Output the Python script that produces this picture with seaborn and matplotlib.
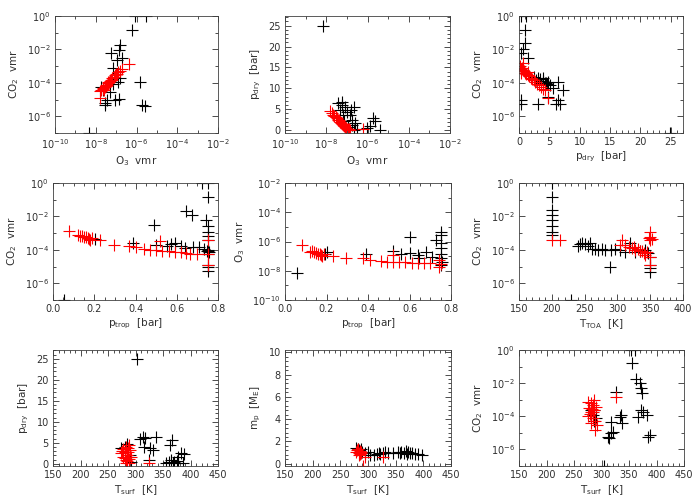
import numpy as np
import matplotlib
matplotlib.use('Agg')
import matplotlib.pyplot as plt
import seaborn as sns
from matplotlib.ticker import FixedLocator, MultipleLocator, NullFormatter, FuncFormatter

sns.set_style('ticks')
plt.rcParams['font.family'] = ['DejaVu Sans']
plt.rcParams['font.size'] = 7
plt.rcParams['mathtext.default'] = 'regular'

# ---- panel 1: O3 vmr vs CO2 vmr
p1_black_o3 = [8e-7, 3e-6, 5.8e-7, 1.5e-7, 1.4e-7, 5.6e-8, 1.9e-7, 1.1e-7, 7e-8, 1.5e-7, 7e-8, 5e-8,
               3.4e-8, 2.8e-8, 3e-8, 8.7e-8, 1.4e-7, 1.5e-6, 1.8e-6, 2.6e-6, 4.8e-9, 2.3e-8, 1.9e-8, 1.2e-7]
p1_black_co2 = [1.0, 1.0, 0.15, 1.8e-2, 9e-3, 6e-3, 3e-3, 2.3e-3, 8e-4, 1.9e-4, 9e-5, 3e-5,
                9e-6, 4.7e-6, 6.5e-6, 9.3e-6, 1.1e-5, 1.2e-4, 4.7e-6, 4.2e-6, 1e-7, 3.7e-5, 5.9e-5, 1.2e-4]
p1_red_o3 = [1.66e-8, 1.91e-8, 2.19e-8, 2.4e-8, 2.82e-8, 3.16e-8, 3.55e-8, 3.98e-8, 4.47e-8, 5.01e-8, 5.75e-8,
             6.61e-8, 7.59e-8, 8.91e-8, 1.05e-7, 1.26e-7, 1.51e-7, 1.91e-7, 2.51e-8, 3.98e-8, 6.31e-8, 1e-7,
             1.6e-8, 4.4e-7]
p1_red_co2 = [3.16e-5, 3.8e-5, 4.17e-5, 5.01e-5, 6.03e-5, 6.61e-5, 7.94e-5, 9.55e-5, 1.12e-4, 1.32e-4, 1.58e-4,
              1.91e-4, 2.4e-4, 2.82e-4, 3.55e-4, 4.47e-4, 5.25e-4, 6.61e-4, 3.55e-5, 1.2e-4, 1.41e-4, 3.31e-4,
              1.3e-5, 1.3e-3]

# ---- panel 2: O3 vmr vs p_dry
p2_black_o3 = [7.2e-9, 3.9e-8, 5.6e-8, 8.1e-8, 4.7e-8, 1e-7, 2.1e-7, 6.8e-8, 1.45e-7, 1.74e-7, 2.5e-7, 1.17e-7,
               2.1e-7, 9.3e-7, 2.3e-6, 1.95e-6, 4.1e-6, 1.26e-6, 6e-8, 1.5e-7, 7e-8, 1.8e-7, 3e-7]
p2_black_pdry = [25.0, 6.4, 6.8, 5.6, 4.8, 4.4, 5.6, 3.6, 3.6, 2.4, 1.6, 0.8,
                 0.0, 0.4, 2.2, 2.8, 0.0, 1.0, 6.0, 4.8, 2.2, 1.2, 0.3]
p2_red_o3 = [1.58e-8, 1.91e-8, 2.19e-8, 2.51e-8, 2.82e-8, 3.16e-8, 3.55e-8, 3.98e-8, 4.47e-8, 5.01e-8, 5.62e-8,
             6.31e-8, 7.24e-8, 8.32e-8, 9.55e-8, 1.1e-7, 1.26e-7, 1.38e-7, 6.3e-7]
p2_red_pdry = [4.5, 4.0, 3.7, 3.4, 3.1, 2.8, 2.5, 2.3, 2.0, 1.7, 1.5,
               1.2, 1.0, 0.7, 0.5, 0.3, 0.15, 0.0, 0.2]

# ---- panel 3: p_dry vs CO2 vmr
p3_black_pdry = [0.4, 1.2, 1.06, 0.94, 0.67, 0.39, 1.49, 3.96, 4.79, 4.24, 5.07, 6.44, 7.26, 5.61, 2.87,
                 0.39, 0.39, 3.14, 4.79, 6.44, 6.71, 6.17, 24.9, 3.5, 4.5, 4.0, 4.6, 3.2, 2.4]
p3_black_co2 = [1.0, 1.0, 0.145, 2.3e-2, 1e-2, 5.8e-3, 3e-3, 1.86e-4, 1.17e-4, 9.3e-5, 7.4e-5, 1.17e-4, 3.7e-5,
                4.7e-5, 1.48e-4, 9.3e-6, 5.1e-6, 5.1e-6, 1.35e-5, 9.3e-6, 5.1e-6, 5.1e-6, 1e-7,
                1.6e-4, 1e-4, 1.3e-4, 8e-5, 2e-4, 2.2e-4]
p3_red_pdry = [0.2, 0.3, 0.45, 0.6, 0.8, 1.0, 1.2, 1.4, 1.6, 1.9, 2.1, 2.4, 2.7, 3.0, 3.3,
               3.6, 3.9, 4.2, 0.67, 4.79, 0.3, 1.5]
p3_red_co2 = [1e-3, 7.08e-4, 7.94e-4, 5.62e-4, 5.01e-4, 3.98e-4, 3.55e-4, 2.82e-4, 2.51e-4, 2e-4, 1.78e-4,
              1.41e-4, 1.12e-4, 8.91e-5, 7.08e-5, 5.62e-5, 4.47e-5, 3.55e-5, 1.45e-3, 1.17e-5, 3.98e-4, 4.47e-4]

# ---- panel 4: p_trop vs CO2 vmr
p4_black_ptrop = [0.72, 0.75, 0.753, 0.645, 0.673, 0.74, 0.75, 0.75, 0.75, 0.75, 0.49, 0.39, 0.59, 0.555,
                  0.68, 0.203, 0.053, 0.75, 0.75, 0.75, 0.75, 0.75, 0.75, 0.62, 0.71, 0.64, 0.73, 0.5,
                  0.57, 0.745, 0.755]
p4_black_co2 = [1.0, 1.0, 0.15, 2.2e-2, 1.2e-2, 6e-3, 2.7e-3, 1.2e-3, 7e-4, 4e-4, 3.1e-3, 2.7e-4, 2.5e-4,
                1.6e-4, 1.45e-4, 4.3e-4, 1e-7, 1e-4, 8e-5, 6e-5, 1.3e-5, 1e-5, 5.6e-6, 1.8e-4, 1.5e-4,
                1.3e-4, 1.2e-4, 2e-4, 2.2e-4, 9e-5, 7e-5]
p4_red_ptrop = [0.077, 0.12, 0.13, 0.14, 0.15, 0.16, 0.17, 0.175, 0.18, 0.19, 0.227, 0.295, 0.367, 0.4,
                0.44, 0.47, 0.5, 0.53, 0.56, 0.59, 0.62, 0.645, 0.665, 0.7, 0.52, 0.752, 0.752, 0.752]
p4_red_co2 = [1.35e-3, 7.8e-4, 7e-4, 6.5e-4, 6e-4, 5.5e-4, 5e-4, 4.5e-4, 4e-4, 4.8e-4, 3.9e-4, 1.95e-4,
              1.8e-4, 1.4e-4, 1.07e-4, 1.05e-4, 1e-4, 9e-5, 8.5e-5, 7.5e-5, 7e-5, 6.5e-5, 6e-5, 5.5e-5,
              3.2e-4, 3.9e-4, 6e-5, 1.2e-5]

# ---- panel 5: p_trop vs O3 vmr
p5_black_ptrop = [0.056, 0.60, 0.75, 0.75, 0.73, 0.75, 0.75, 0.75, 0.75, 0.755, 0.75, 0.392, 0.52, 0.56,
                  0.648, 0.6, 0.68, 0.71, 0.64, 0.192, 0.2]
p5_black_o3 = [6.6e-9, 1.9e-6, 4.7e-6, 2.8e-6, 1.26e-6, 7.4e-7, 3.4e-7, 1.5e-7, 6.9e-8, 4.1e-8, 2.4e-8,
               1.5e-7, 2.3e-7, 1.5e-7, 6.9e-8, 1.6e-7, 1.9e-7, 9e-8, 1.2e-7, 1.5e-7, 2e-7]
p5_red_ptrop = [0.08, 0.12, 0.13, 0.14, 0.15, 0.16, 0.17, 0.175, 0.18, 0.19, 0.232, 0.293, 0.376, 0.408,
                0.464, 0.49, 0.52, 0.55, 0.58, 0.61, 0.64, 0.67, 0.70, 0.52, 0.744, 0.744, 0.75]
p5_red_o3 = [5.6e-7, 2e-7, 2.2e-7, 1.8e-7, 1.6e-7, 1.5e-7, 1.3e-7, 1.2e-7, 1.1e-7, 1.4e-7, 1e-7, 6.9e-8,
             6.9e-8, 5.4e-8, 4.6e-8, 4e-8, 4e-8, 3.8e-8, 3.8e-8, 3.6e-8, 3.6e-8, 3.5e-8, 3.4e-8, 1.2e-7,
             5.4e-8, 1.9e-8, 3e-8]

# ---- panel 6: T_TOA vs CO2 vmr
p6_black_ttoa = [200, 200, 200, 200, 200, 200, 200, 200, 230, 240, 243, 246, 250, 258, 266, 271, 281, 291,
                 296, 304, 312, 319, 289, 342, 347, 350, 350, 350, 350, 335, 327, 262, 276, 255]
p6_black_co2 = [1.0, 0.15, 2.4e-2, 1.2e-2, 6e-3, 2.7e-3, 1.2e-3, 7.8e-4, 1e-7, 1.7e-4, 2.1e-4, 2.7e-4,
                2.2e-4, 2.5e-4, 1.2e-4, 9.8e-5, 1e-4, 9.8e-5, 1.2e-4, 9.8e-5, 7.8e-5, 2.5e-4, 8.9e-6,
                9.8e-5, 6.2e-5, 3.9e-5, 1.2e-5, 7.8e-6, 4.9e-6, 8e-5, 7e-5, 1.1e-4, 1.2e-4, 1.8e-4]
p6_red_ttoa = [200, 213, 307, 304, 317, 322, 327, 332, 335, 340, 342, 345, 350, 350, 350, 348, 352, 350,
               350, 312, 325, 338]
p6_red_co2 = [3.9e-4, 3.9e-4, 3.9e-4, 1.95e-4, 1.55e-4, 1.25e-4, 1e-4, 1.1e-4, 8e-5, 6.5e-5, 5e-5, 7e-5,
              1.23e-3, 6.2e-4, 3.9e-4, 5e-4, 4.5e-4, 4e-5, 1.23e-5, 2e-4, 1.4e-4, 9e-5]

# ---- panel 7: T_surf vs p_dry
p7_black_tsurf = [303, 308, 314, 318, 315, 326, 337, 332, 324.5, 367, 362, 383, 377, 389, 356, 368, 378, 386,
                  280, 286, 273, 290, 292, 285, 360, 365, 370, 375]
p7_black_pdry = [25.0, 5.9, 6.3, 6.1, 4.1, 3.7, 6.5, 3.3, 1.0, 5.7, 4.5, 2.5, 1.7, 2.4, 0.2, 0.1, 0.1, 0.1,
                 4.1, 1.7, 3.7, 2.0, 0.5, 4.8, 0.5, 0.9, 0.4, 0.6]
p7_red_tsurf = [274, 280, 286, 289, 283, 282, 277, 292, 289, 278, 284, 287, 280, 285, 290, 276, 324.5, 283, 288]
p7_red_pdry = [2.5, 2.9, 3.7, 4.5, 1.0, 0.2, 1.7, 1.7, 0.2, 3.5, 2.2, 2.8, 1.3, 0.6, 3.2, 3.1, 0.2, 4.0, 1.2]

# ---- panel 8: T_surf vs planet mass
p8_black_tsurf = [279, 282, 284, 286, 290, 295, 300, 303, 310, 316, 322, 328, 336, 355, 360, 365, 368, 372,
                  376, 380, 385, 390, 397, 345, 288, 320, 330, 358, 370]
p8_black_mp = [1.4, 1.3, 1.2, 1.1, 1.1, 1.0, 1.05, 0.8, 0.8, 0.9, 0.85, 0.95, 1.0, 1.05, 1.1, 1.0, 1.15, 1.05,
               0.95, 1.0, 0.9, 0.85, 0.8, 1.0, 1.3, 1.0, 1.05, 0.95, 0.9]
p8_red_tsurf = [279, 281, 283, 285, 287, 284, 288, 282, 294, 291, 327, 286]
p8_red_mp = [1.1, 1.2, 1.0, 0.9, 1.05, 0.8, 0.95, 1.3, 0.65, -0.18, 0.65, 1.15]

# ---- panel 9: T_surf vs CO2 vmr
p9_black_tsurf = [354, 360, 356, 363, 369.5, 372.6, 374, 366, 372.6, 375.6, 383, 384.8, 388, 325.6, 333, 336,
                  338, 317.7, 320.7, 317.7, 311.6, 314, 303.7, 281, 287, 284, 290, 286]
p9_black_co2 = [1.0, 1.0, 0.16, 1.9e-2, 9.8e-3, 4.9e-3, 2.4e-3, 9.5e-5, 2.4e-4, 1.9e-4, 1.2e-4, 5.4e-6,
                7.4e-6, 3e-3, 9.5e-5, 1.2e-4, 3.7e-5, 4.7e-5, 1.2e-5, 9.3e-6, 5.9e-6, 5e-6, 1e-7, 2.4e-4,
                2.4e-4, 1.2e-4, 8e-5, 5e-5]
p9_red_tsurf = [275, 281, 284, 278, 287, 281, 276, 284, 288, 280, 289, 286, 283, 290, 279, 285, 326.8, 292]
p9_red_co2 = [7.6e-4, 6e-4, 4.5e-4, 3.3e-4, 2.5e-4, 1.7e-4, 1.1e-4, 8e-5, 5.5e-5, 4e-5, 1.5e-5, 9.5e-4,
              2.8e-4, 3.5e-4, 1.4e-4, 1.9e-4, 1.4e-3, 3e-5]

lbl_co2 = 'CO$_2$  vmr'
lbl_o3 = 'O$_3$  vmr'
lbl_pdry = 'p$_{dry}$  [bar]'
lbl_ptrop = 'p$_{trop}$  [bar]'
lbl_ttoa = 'T$_{TOA}$  [K]'
lbl_tsurf = 'T$_{surf}$  [K]'
lbl_mp = 'm$_p$  [M$_E$]'

TXT = '#303030'
W, H = 700, 500


def pow10(v, pos):
    return '$10^{%d}$' % int(round(np.log10(v)))


def setup_axis(axis, lim, log, major=None, minor=None):
    if log:
        lo, hi = int(np.log10(lim[0])), int(np.log10(lim[1]))
        decades = list(range(lo, hi + 1))
        majors = [10.0 ** d for d in decades if d % 2 == 0]
        minors = [10.0 ** d for d in decades if d % 2 != 0]
        axis.set_major_locator(FixedLocator(majors))
        axis.set_minor_locator(FixedLocator(minors))
        axis.set_major_formatter(FuncFormatter(pow10))
        axis.set_minor_formatter(NullFormatter())
    else:
        axis.set_major_locator(MultipleLocator(major))
        axis.set_minor_locator(MultipleLocator(minor))


def panel(box, bx, by, rx, ry, xlabel, ylabel, xlim, ylim, xlog=False, ylog=False,
          xt=(None, None), yt=(None, None)):
    x0, x1, y0, y1 = box
    ax = fig.add_axes([x0 / W, 1 - y1 / H, (x1 - x0) / W, (y1 - y0) / H])
    if xlog:
        ax.set_xscale('log')
    if ylog:
        ax.set_yscale('log')
    sns.scatterplot(x=bx, y=by, marker='+', color='black', s=75, linewidth=0.8, ax=ax, legend=False)
    sns.scatterplot(x=rx, y=ry, marker='+', color='red', s=75, linewidth=0.8, ax=ax, legend=False)
    ax.set_xlim(*xlim)
    ax.set_ylim(*ylim)
    setup_axis(ax.xaxis, xlim, xlog, *xt)
    setup_axis(ax.yaxis, ylim, ylog, *yt)
    ax.tick_params(which='both', direction='in', top=True, right=True, colors=TXT,
                   labelsize=7, width=0.6, pad=3)
    ax.tick_params(which='major', length=4)
    ax.tick_params(which='minor', length=2)
    for s in ax.spines.values():
        s.set_linewidth(0.6)
        s.set_color('#404040')
    ax.set_xlabel(xlabel, color=TXT, fontsize=7.5, labelpad=2)
    ax.set_ylabel(ylabel, color=TXT, fontsize=7.5, labelpad=4)
    return ax


fig = plt.figure(figsize=(7, 5), dpi=100)

co2_lim = (1e-7, 1.0)
o3_lim = (1e-10, 1e-2)
pdry_lim = (-0.7, 27.3)

panel((55, 218, 16, 133), p1_black_o3, p1_black_co2, p1_red_o3, p1_red_co2,
      lbl_o3, lbl_co2, o3_lim, co2_lim, xlog=True, ylog=True)
panel((285, 450, 16, 133), p2_black_o3, p2_black_pdry, p2_red_o3, p2_red_pdry,
      lbl_o3, lbl_pdry, o3_lim, pdry_lim, xlog=True, yt=(5, 1))
panel((519, 683, 16, 133), p3_black_pdry, p3_black_co2, p3_red_pdry, p3_red_co2,
      lbl_pdry, lbl_co2, (0, 27), co2_lim, ylog=True, xt=(5, 1))

panel((53, 218, 183, 300), p4_black_ptrop, p4_black_co2, p4_red_ptrop, p4_red_co2,
      lbl_ptrop, lbl_co2, (0, 0.8), co2_lim, ylog=True, xt=(0.2, 0.05))
panel((285, 451, 183, 300), p5_black_ptrop, p5_black_o3, p5_red_ptrop, p5_red_o3,
      lbl_ptrop, lbl_o3, (0, 0.8), o3_lim, ylog=True, xt=(0.2, 0.05))
panel((519, 683, 183, 300), p6_black_ttoa, p6_black_co2, p6_red_ttoa, p6_red_co2,
      lbl_ttoa, lbl_co2, (150, 400), co2_lim, ylog=True, xt=(50, 10))

panel((53, 218, 350, 466), p7_black_tsurf, p7_black_pdry, p7_red_tsurf, p7_red_pdry,
      lbl_tsurf, lbl_pdry, (150, 450), (-0.5, 27.1), xt=(50, 10), yt=(5, 1))
panel((285, 451, 350, 466), p8_black_tsurf, p8_black_mp, p8_red_tsurf, p8_red_mp,
      lbl_tsurf, lbl_mp, (150, 450), (-0.2, 10.2), xt=(50, 10), yt=(2, 0.4))
panel((519, 684, 350, 466), p9_black_tsurf, p9_black_co2, p9_red_tsurf, p9_red_co2,
      lbl_tsurf, lbl_co2, (150, 450), co2_lim, ylog=True, xt=(50, 10))

fig.savefig('out.png', dpi=100)
plt.close(fig)
